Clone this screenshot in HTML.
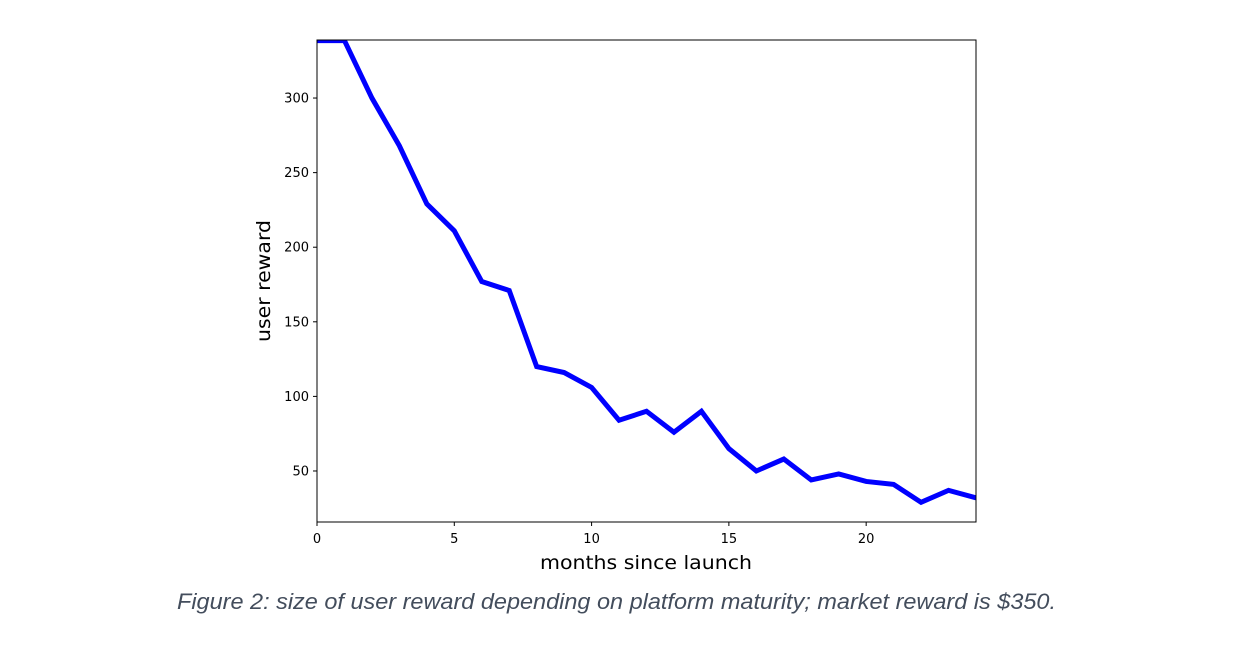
<!DOCTYPE html>
<html><head><meta charset="utf-8"><style>
body{margin:0;background:#fff;width:1258px;height:654px;overflow:hidden}
svg{display:block}
</style></head><body>
<svg id="chart" width="1258" height="654" xmlns="http://www.w3.org/2000/svg" font-family="DejaVu Sans, sans-serif">
<defs><clipPath id="clip"><rect x="317" y="40" width="659" height="482"/></clipPath></defs>
<g id="xticks"></g>
<g id="yticks"></g>
<polyline id="line" fill="none" stroke="#0000ff" stroke-width="5" stroke-linejoin="miter" clip-path="url(#clip)"/>
<rect x="317" y="40" width="659" height="482" fill="none" stroke="#000" stroke-width="1"/>
<text x="646" y="569" font-size="19" text-anchor="middle" textLength="212" lengthAdjust="spacingAndGlyphs">months since launch</text>
<text transform="translate(270,281) rotate(-90)" font-size="19" text-anchor="middle" textLength="122" lengthAdjust="spacingAndGlyphs">user reward</text>
<text x="177" y="609" font-family="Liberation Sans, sans-serif" font-style="italic" font-size="22" fill="#434d5c" textLength="879" lengthAdjust="spacingAndGlyphs">Figure 2: size of user reward depending on platform maturity; market reward is $350.</text>
</svg>
<script>
const months=[0,1,2,3,4,5,6,7,8,9,10,11,12,13,14,15,16,17,18,19,20,21,22,23,24];
const rewards=[338.5,338.5,300,268,229,211,177,171,120,116,106,84,90,76,90,65,50,58,44,48,43,41,29,37,32];
const xTickValues=[0,5,10,15,20];
const yTickValues=[50,100,150,200,250,300];
const X=v=>317+(v-0)*(659/24);
const Y=v=>522-(v-15.8)*(482/(338.9-15.8));
const ns='http://www.w3.org/2000/svg';
document.getElementById('line').setAttribute('points',months.map((m,i)=>X(m)+','+Y(rewards[i])).join(' '));
const xg=document.getElementById('xticks');
xTickValues.forEach(v=>{
 const l=document.createElementNS(ns,'line');
 
 
 l.setAttribute('x1',X(v));l.setAttribute('x2',X(v));l.setAttribute('y1',522);l.setAttribute('y2',526);l.setAttribute('stroke','#000');
 xg.appendChild(l);
 const t=document.createElementNS(ns,'text');
 
 
 t.setAttribute('x',X(v));t.setAttribute('y',543);t.setAttribute('font-size','13');t.setAttribute('text-anchor','middle');
 t.textContent=v;xg.appendChild(t);
});
const yg=document.getElementById('yticks');
yTickValues.forEach(v=>{
 const l=document.createElementNS(ns,'line');
 
 
 l.setAttribute('x1',313);l.setAttribute('x2',317);l.setAttribute('y1',Y(v));l.setAttribute('y2',Y(v));l.setAttribute('stroke','#000');
 yg.appendChild(l);
 const t=document.createElementNS(ns,'text');
 
 
 t.setAttribute('x',309);t.setAttribute('y',Y(v)+4.5);t.setAttribute('font-size','13');t.setAttribute('text-anchor','end');
 t.textContent=v;yg.appendChild(t);
});
</script>
</body></html>
